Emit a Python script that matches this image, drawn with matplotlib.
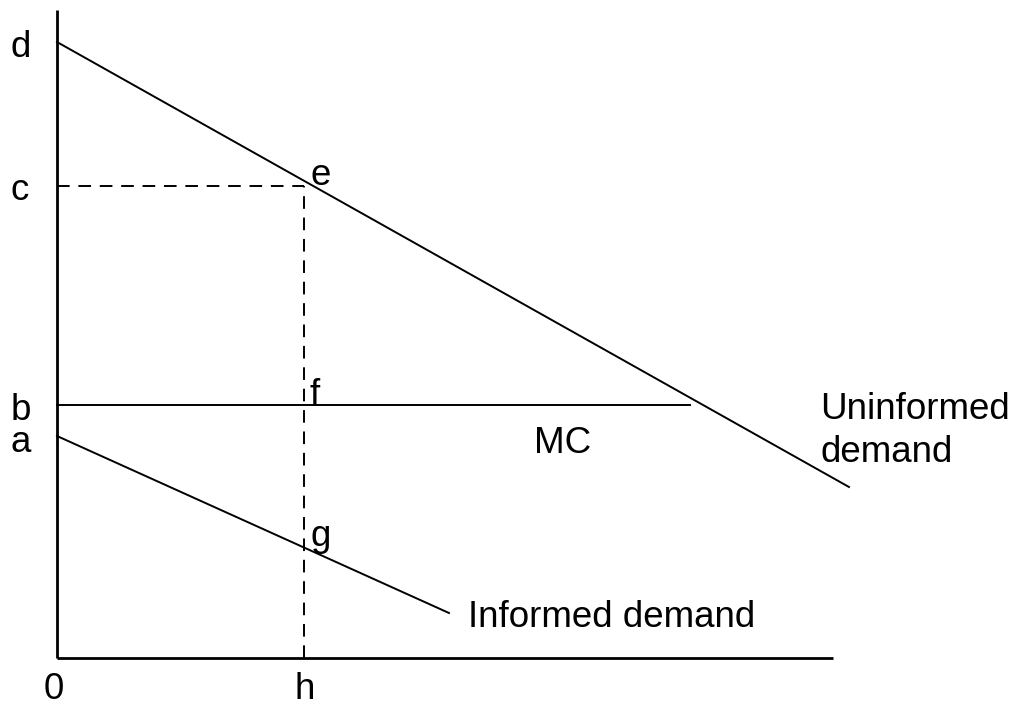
import matplotlib
matplotlib.use("Agg")
import matplotlib.pyplot as plt

plt.rcParams['font.family'] = ['Liberation Sans', 'DejaVu Sans']

# Price levels (vertical axis)
price_labels = ['a', 'b', 'c', 'd']
price_values = [2.22, 2.53, 4.72, 6.16]
# Quantity levels
h_value = 2.47
# Uninformed demand: (q, p) endpoints
uninformed_q = [0.0, 7.92]
uninformed_p = [6.16, 1.71]
# Informed demand
informed_q = [0.0, 3.92]
informed_p = [2.22, 0.45]
# Marginal cost
mc_q = [0.0, 6.33]
mc_p = [2.53, 2.53]
# Axis extents
x_axis_end = 7.76
y_axis_end = 6.48

fig = plt.figure(figsize=(10.17, 7.08), dpi=100)
ax = fig.add_axes([0, 0, 1, 1])
ax.set_xlim(-0.57, 9.60)
ax.set_ylim(-0.50, 6.58)
ax.axis('off')

fs = 26.5
lw = 1.4
# axes
ax.plot([0, 0], [0, y_axis_end], color='black', lw=2.0, solid_capstyle='butt')
ax.plot([0, x_axis_end], [0, 0], color='black', lw=2.0, solid_capstyle='butt')

# curves
ax.plot(uninformed_q, uninformed_p, color='black', lw=lw)
ax.plot(informed_q, informed_p, color='black', lw=lw)
ax.plot(mc_q, mc_p, color='black', lw=lw)

# dashed guides
c_val = price_values[2]
dash = (0, (6.5, 4.5))
ax.plot([0, h_value], [c_val, c_val], color='black', lw=lw, ls=dash)
ax.plot([h_value, h_value], [0, c_val], color='black', lw=lw, ls=dash)


def txt(s, x, y, ha='left', **kw):
    ax.text(x, y, s, fontsize=fs, ha=ha, va='baseline', **kw)


# price labels (left of the vertical axis)
label_base = {'d': 6.01, 'c': 4.58, 'b': 2.38, 'a': 2.06}
for lab in price_labels:
    txt(lab, -0.46, label_base[lab])

txt('0', -0.03, -0.41, ha='center')
txt('h', h_value + 0.01, -0.41, ha='center')

txt('e', h_value + 0.07, 4.73)
txt('f', h_value + 0.05, 2.53)
txt('g', h_value + 0.07, 1.12)
txt('MC', 4.77, 2.05)
txt('Uninformed', 7.63, 2.39)
txt('demand', 7.63, 1.96)
txt('Informed demand', 4.11, 0.31)

fig.savefig('out.png', dpi=100)
